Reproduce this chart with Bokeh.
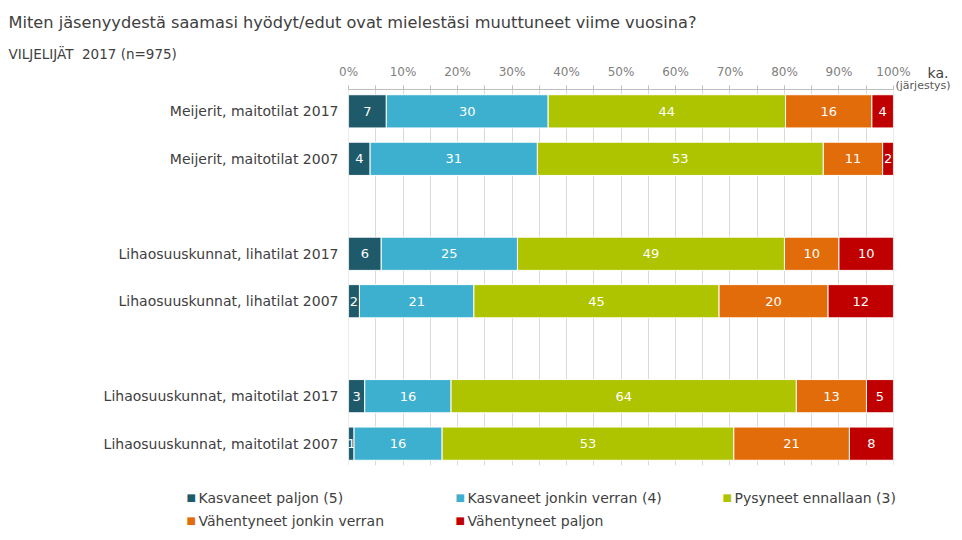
from bokeh.plotting import figure
from bokeh.layouts import column
from bokeh.models import Range1d, FixedTicker, Label, ColumnDataSource
from bokeh.embed import file_html
from bokeh.resources import INLINE
from bokeh.core.properties import value

# ---------------- data ----------------
categories = [
    "Meijerit, maitotilat 2017",
    "Meijerit, maitotilat 2007",
    "Lihaosuuskunnat, lihatilat 2017",
    "Lihaosuuskunnat, lihatilat 2007",
    "Lihaosuuskunnat, maitotilat 2017",
    "Lihaosuuskunnat, maitotilat 2007",
]
category_slots = [0, 1, 3, 4, 6, 7]

series_names = [
    "Kasvaneet paljon (5)",
    "Kasvaneet jonkin verran (4)",
    "Pysyneet ennallaan (3)",
    "Vähentyneet jonkin verran",
    "Vähentyneet paljon",
]
kasvaneet_paljon = [7, 4, 6, 2, 3, 1]
kasvaneet_jonkin_verran = [30, 31, 25, 21, 16, 16]
pysyneet_ennallaan = [44, 53, 49, 45, 64, 53]
vahentyneet_jonkin_verran = [16, 11, 10, 20, 13, 21]
vahentyneet_paljon = [4, 2, 10, 12, 5, 8]
series_values = [kasvaneet_paljon, kasvaneet_jonkin_verran, pysyneet_ennallaan,
                 vahentyneet_jonkin_verran, vahentyneet_paljon]
series_colors = ["#1f5a6b", "#3eb0cf", "#afc400", "#e36c0a", "#c00000"]

x_ticks = list(range(0, 101, 10))
x_tick_labels = [f"{t}%" for t in x_ticks]
grid_ticks = list(range(0, 101, 5))

title_text = "Miten jäsenyydestä saamasi hyödyt/edut ovat mielestäsi muuttuneet viime vuosina?"
subtitle_text = "VILJELIJÄT\u00a0 2017 (n=975)"
mean_header = "ka."
mean_header_sub = "(järjestys)"

FONT = "DejaVu Sans"
TEXT_COLOR = "#404040"
W = 962


def blank_fig(height, **kw):
    f = figure(width=W, height=height, output_backend="svg", toolbar_location=None,
               x_range=Range1d(0, W), y_range=Range1d(height, 0),
               x_axis_type=None, y_axis_type=None,
               min_border=0, min_border_left=0, min_border_right=0,
               min_border_top=0, min_border_bottom=0, frame_align=False, **kw)
    f.outline_line_color = None
    f.xgrid.grid_line_color = None
    f.ygrid.grid_line_color = None
    f.background_fill_color = None
    f.border_fill_color = None
    return f


def add_label(f, x, y, text, size, color=TEXT_COLOR, align="left"):
    f.add_layout(Label(x=x, y=y, text=text, text_font=FONT, text_font_size=size,
                       text_color=color, text_align=align, text_baseline="middle"))


# ---------------- header (overlaps the top of the chart, transparent) ----------------
header = blank_fig(92, margin=(0, 0, -32, 0))
add_label(header, 8, 22, title_text, "16.2px")
add_label(header, 8, 53, subtitle_text, "13.5px")
add_label(header, 948, 72, mean_header, "14px", align="right")
add_label(header, 950, 85, mean_header_sub, "11px", color="#595959", align="right")

# ---------------- main chart ----------------
p = figure(width=W, height=410, output_backend="svg", toolbar_location=None,
           x_axis_location="above", frame_align=False,
           x_range=Range1d(-0.01, 100.01), y_range=Range1d(7.46, -0.46),
           min_border_left=348, min_border_right=69,
           min_border_top=29, min_border_bottom=5)
p.outline_line_color = None
p.border_fill_color = None

totals = [sum(s[i] for s in series_values) for i in range(len(categories))]
cum = [0.0] * len(categories)
for name, vals, col in zip(series_names, series_values, series_colors):
    left, right, mid = [], [], []
    for i, v in enumerate(vals):
        w = v / totals[i] * 100.0
        left.append(cum[i])
        right.append(cum[i] + w)
        mid.append(cum[i] + w / 2)
        cum[i] += w
    src = ColumnDataSource(dict(y=category_slots, left=left, right=right, mid=mid,
                                label=[str(v) for v in vals]))
    p.hbar(y="y", left="left", right="right", height=0.70, source=src,
           fill_color=col, line_color="white", line_width=1)
    p.text(x="mid", y="y", text="label", source=src, text_color="white",
           text_align="center", text_baseline="middle",
           text_font=value(FONT), text_font_size="13px")

xa = p.xaxis[0]
xa.ticker = FixedTicker(ticks=x_ticks, minor_ticks=grid_ticks)
xa.major_label_overrides = {t: l for t, l in zip(x_ticks, x_tick_labels)}
xa.axis_line_color = "#bfbfbf"
xa.major_tick_line_color = "#bfbfbf"
xa.minor_tick_line_color = "#bfbfbf"
xa.major_tick_out = 4
xa.major_tick_in = 0
xa.minor_tick_out = 4
xa.minor_tick_in = 0
xa.major_label_text_color = "#808080"
xa.major_label_text_font = FONT
xa.major_label_text_font_size = "12px"
xa.major_label_standoff = 7

ya = p.yaxis[0]
ya.ticker = FixedTicker(ticks=category_slots)
ya.major_label_overrides = {s: c for s, c in zip(category_slots, categories)}
ya.axis_line_color = None
ya.major_tick_line_color = None
ya.minor_tick_line_color = None
ya.major_label_text_color = TEXT_COLOR
ya.major_label_text_font = FONT
ya.major_label_text_font_size = "14px"
ya.major_label_standoff = 4

p.xgrid.ticker = FixedTicker(ticks=grid_ticks)
p.xgrid.grid_line_color = "#d9d9d9"
p.ygrid.grid_line_color = None

# ---------------- legend ----------------
footer = blank_fig(66)
legend_x = [187, 456, 723, 187, 456]
legend_y = [27, 27, 27, 50, 50]
for name, col, lx, ly in zip(series_names, series_colors, legend_x, legend_y):
    add_label(footer, lx - 1, ly, "■", "10px", color=col)
    add_label(footer, lx + 11, ly, name, "14px")

layout = column(header, p, footer, spacing=0)
open("out.html", "w").write(file_html(layout, INLINE))
